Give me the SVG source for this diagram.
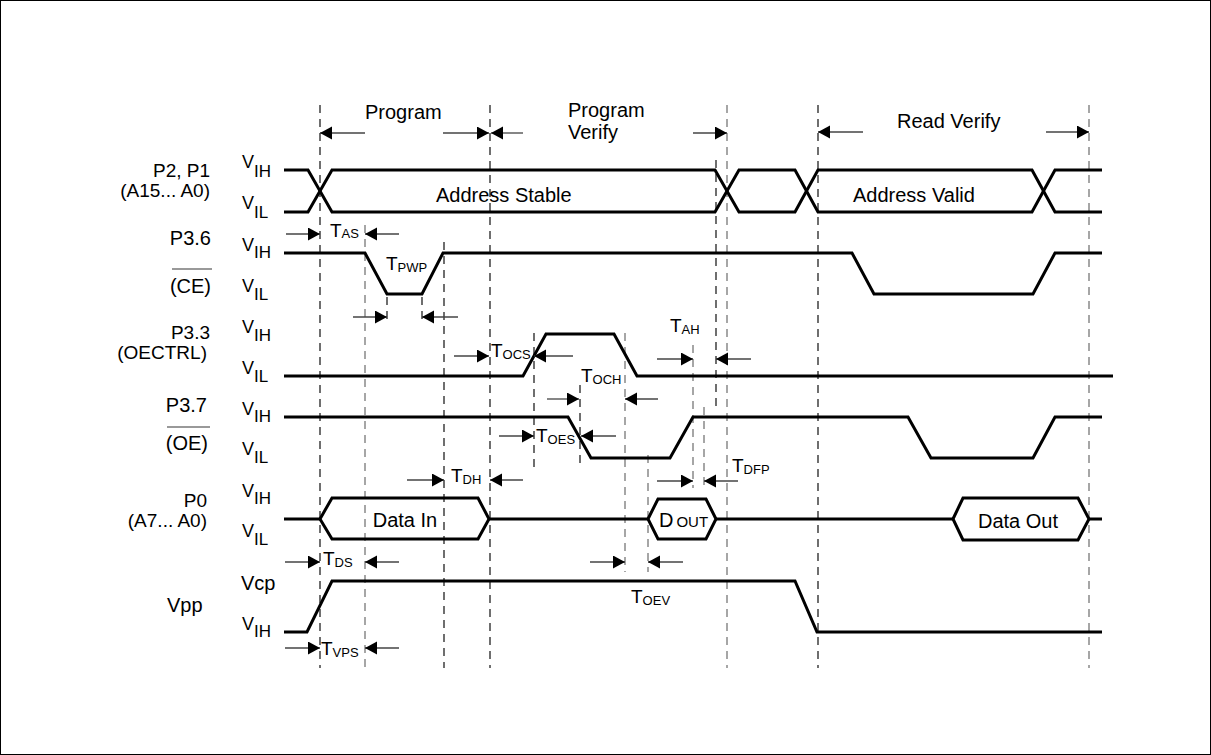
<svg xmlns="http://www.w3.org/2000/svg" width="1211" height="755" viewBox="0 0 1211 755">
<style>
text{font-family:"Liberation Sans",Arial,sans-serif;fill:#000}
.t{font-size:20px}
.lb{font-size:20px;text-anchor:end}
.lb2{font-size:19px;text-anchor:end}
.v{font-size:18px}
.tt{font-size:19px}
.sb{font-size:13px}
.sig{fill:none;stroke:#000;stroke-width:3;stroke-linejoin:miter}
.dk{stroke:#222;stroke-width:1.3;stroke-dasharray:8 6;fill:none}
.gy{stroke:#777;stroke-width:1.3;stroke-dasharray:8 6;fill:none}
.ar{stroke:#444;stroke-width:1.3;fill:none;marker-end:url(#ah)}
.ov{stroke:#777;stroke-width:1.3}
</style>
<defs>
<marker id="ah" markerUnits="userSpaceOnUse" markerWidth="13" markerHeight="14" refX="12" refY="6.5" orient="auto">
<path d="M0,0 L12,6.5 L0,13 Z" fill="#000"/>
</marker>
</defs>
<rect x="0.5" y="0.5" width="1210" height="754" fill="#fff" stroke="#000" stroke-width="1"/>

<g id="guides">
<line class="dk" x1="320" y1="105" x2="320" y2="668"/>
<line class="gy" x1="365" y1="225" x2="365" y2="668"/>
<line class="dk" x1="387" y1="297" x2="387" y2="323"/>
<line class="dk" x1="422" y1="297" x2="422" y2="323"/>
<line class="dk" x1="444" y1="242" x2="444" y2="668"/>
<line class="dk" x1="490" y1="105" x2="490" y2="668"/>
<line class="dk" x1="534" y1="333" x2="534" y2="467"/>
<line class="dk" x1="580" y1="385" x2="580" y2="467"/>
<line class="gy" x1="625" y1="333" x2="625" y2="572"/>
<line class="gy" x1="648" y1="455" x2="648" y2="572"/>
<line class="gy" x1="693" y1="345" x2="693" y2="488"/>
<line class="gy" x1="704" y1="407" x2="704" y2="488"/>
<line class="dk" x1="716" y1="160" x2="716" y2="407"/>
<line class="gy" x1="727" y1="105" x2="727" y2="668"/>
<line class="dk" x1="818" y1="105" x2="818" y2="668"/>
<line class="gy" x1="1089" y1="105" x2="1089" y2="668"/>
</g>

<g id="phases">
<text class="t" x="365" y="119">Program</text>
<text class="t"><tspan x="568" y="117">Program</tspan><tspan x="568" y="139">Verify</tspan></text>
<text class="t" x="897" y="128">Read Verify</text>
</g>

<g id="sig-address">
<text class="lb2"><tspan x="210" y="177">P2, P1</tspan><tspan x="210" y="197">(A15... A0)</tspan></text>
<text class="v" x="242" y="168">V<tspan dy="9" font-size="17">IH</tspan></text>
<text class="v" x="242" y="209">V<tspan dy="9" font-size="17">IL</tspan></text>
<path class="sig" d="M284,170 H308 L332,212 H715 L739,170 H795 L818,212 H1032 L1055,170 H1102"/>
<path class="sig" d="M284,212 H308 L332,170 H715 L739,212 H795 L818,170 H1032 L1055,212 H1102"/>
<text class="t" x="436" y="202">Address Stable</text>
<text class="t" x="853" y="202">Address Valid</text>
</g>

<g id="sig-ce">
<text class="lb" x="211" y="245">P3.6</text>
<line class="ov" x1="172" y1="269" x2="212" y2="269"/>
<text class="lb" x="211" y="293">(CE)</text>
<text class="v" x="242" y="251">V<tspan dy="7" font-size="17">IH</tspan></text>
<text class="v" x="242" y="292">V<tspan dy="8" font-size="17">IL</tspan></text>
<path class="sig" d="M284,253 H365 L387,294 H422 L443,253 H852 L874,294 H1033 L1055,253 H1102"/>
</g>

<g id="sig-oectrl">
<text class="lb2"><tspan x="210" y="339">P3.3</tspan><tspan x="207" y="359">(OECTRL)</tspan></text>
<text class="v" x="242" y="333">V<tspan dy="8" font-size="17">IH</tspan></text>
<text class="v" x="242" y="374">V<tspan dy="8" font-size="17">IL</tspan></text>
<path class="sig" d="M284,376 H523 L546,334 H614 L637,376 H1113"/>
</g>

<g id="sig-oe">
<text class="lb" x="207" y="412">P3.7</text>
<line class="ov" x1="167" y1="427" x2="210" y2="427"/>
<text class="lb" x="208" y="450">(OE)</text>
<text class="v" x="242" y="415">V<tspan dy="7" font-size="17">IH</tspan></text>
<text class="v" x="242" y="455">V<tspan dy="8" font-size="17">IL</tspan></text>
<path class="sig" d="M284,417 H568 L591,458 H670 L693,417 H908 L931,458 H1033 L1055,417 H1102"/>
</g>

<g id="sig-p0">
<text class="lb2"><tspan x="207" y="507">P0</tspan><tspan x="207" y="527">(A7... A0)</tspan></text>
<text class="v" x="242" y="497">V<tspan dy="7" font-size="17">IH</tspan></text>
<text class="v" x="242" y="537">V<tspan dy="8" font-size="17">IL</tspan></text>
<path class="sig" d="M284,519 H320 M489,519 H648 M716,519 H953 M1089,519 H1102"/>
<path class="sig" d="M320,519 L332,498 H478 L489,519 L478,539 H332 Z"/>
<path class="sig" d="M648,519 L658,499 H706 L716,519 L706,539 H658 Z"/>
<path class="sig" d="M953,519 L963,498 H1078 L1089,519 L1078,540 H963 Z"/>
<text class="t" x="405" y="527" text-anchor="middle">Data In</text>
<text class="t" x="659" y="527">D<tspan dx="3" font-size="15">OUT</tspan></text>
<text class="t" x="978" y="528">Data Out</text>
</g>

<g id="sig-vpp">
<text class="t" x="167" y="612">Vpp</text>
<text class="t" x="241" y="590">Vcp</text>
<text class="v" x="242" y="630">V<tspan dy="7" font-size="17">IH</tspan></text>
<path class="sig" d="M284,632 H307 L332,581 H795 L817,632 H1102"/>
</g>

<g id="timing-labels">
<text class="tt" x="330" y="237">T<tspan class="sb" dy="1">AS</tspan></text>
<text class="tt" x="386" y="270">T<tspan class="sb" dy="2">PWP</tspan></text>
<text class="tt" x="491" y="357">T<tspan class="sb" dy="2">OCS</tspan></text>
<text class="tt" x="670" y="332">T<tspan class="sb" dy="2">AH</tspan></text>
<text class="tt" x="581" y="382">T<tspan class="sb" dy="2">OCH</tspan></text>
<text class="tt" x="536" y="442">T<tspan class="sb" dy="2">OES</tspan></text>
<text class="tt" x="451" y="482">T<tspan class="sb" dy="2">DH</tspan></text>
<text class="tt" x="732" y="472">T<tspan class="sb" dy="2">DFP</tspan></text>
<text class="tt" x="323" y="565">T<tspan class="sb" dy="2">DS</tspan></text>
<text class="tt" x="631" y="603">T<tspan class="sb" dy="2">OEV</tspan></text>
<text class="tt" x="321" y="655">T<tspan class="sb" dy="2">VPS</tspan></text>
</g>

<g id="connectors">
<line class="ar" x1="365" y1="133" x2="320" y2="133"/>
<line class="ar" x1="443" y1="133" x2="489" y2="133"/>
<line class="ar" x1="523" y1="133" x2="491" y2="133"/>
<line class="ar" x1="693" y1="133" x2="727" y2="133"/>
<line class="ar" x1="863" y1="132" x2="818" y2="132"/>
<line class="ar" x1="1046" y1="132" x2="1089" y2="132"/>
<line class="ar" x1="286" y1="234" x2="320" y2="234"/>
<line class="ar" x1="399" y1="234" x2="365" y2="234"/>
<line class="ar" x1="353" y1="317" x2="387" y2="317"/>
<line class="ar" x1="458" y1="317" x2="422" y2="317"/>
<line class="ar" x1="454" y1="356" x2="489" y2="356"/>
<line class="ar" x1="573" y1="356" x2="534" y2="356"/>
<line class="ar" x1="657" y1="359" x2="693" y2="359"/>
<line class="ar" x1="751" y1="359" x2="716" y2="359"/>
<line class="ar" x1="547" y1="399" x2="579" y2="399"/>
<line class="ar" x1="658" y1="399" x2="625" y2="399"/>
<line class="ar" x1="499" y1="436" x2="534" y2="436"/>
<line class="ar" x1="616" y1="436" x2="581" y2="436"/>
<line class="ar" x1="407" y1="480" x2="444" y2="480"/>
<line class="ar" x1="523" y1="480" x2="490" y2="480"/>
<line class="ar" x1="657" y1="481" x2="693" y2="481"/>
<line class="ar" x1="738" y1="481" x2="704" y2="481"/>
<line class="ar" x1="285" y1="562" x2="320" y2="562"/>
<line class="ar" x1="399" y1="562" x2="365" y2="562"/>
<line class="ar" x1="590" y1="562" x2="625" y2="562"/>
<line class="ar" x1="683" y1="562" x2="648" y2="562"/>
<line class="ar" x1="285" y1="648" x2="320" y2="648"/>
<line class="ar" x1="399" y1="648" x2="365" y2="648"/>
</g>
</svg>
